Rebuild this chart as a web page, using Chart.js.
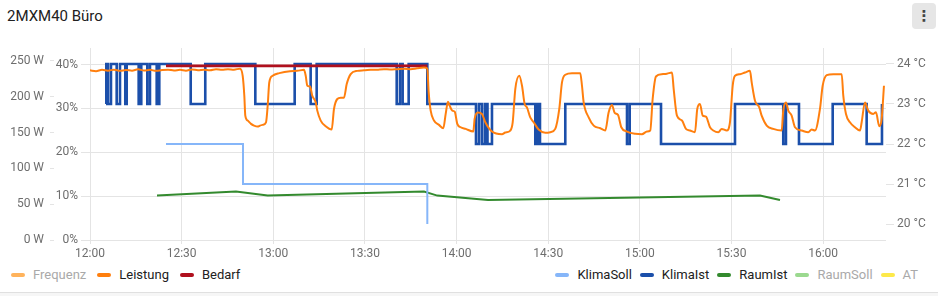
<!DOCTYPE html>
<html><head><meta charset="utf-8">
<script src="https://cdn.jsdelivr.net/npm/chart.js@4.4.1/dist/chart.umd.min.js"></script>
<style>
html,body{margin:0;padding:0;background:#fff;width:938px;height:296px;overflow:hidden;font-family:Roboto,"Noto Sans",sans-serif;}
#title{position:absolute;left:7px;top:5.6px;font-size:15px;line-height:20px;color:#212121;white-space:nowrap;}
#menu{position:absolute;left:912px;top:3px;width:24px;height:26px;background:#e6e6e6;border-radius:4px;color:#444;font:bold 15px "DejaVu Sans",sans-serif;text-align:center;line-height:26px;}
#chart{position:absolute;left:0;top:0;}
.legend{position:absolute;top:266px;display:flex;align-items:center;font-size:13px;line-height:18px;white-space:nowrap;}
#legL{left:11px;}
#legR{right:20px;}
.item{display:flex;align-items:center;color:#212121;}
#legL .item{margin-right:11px;}
#legR .item{margin-left:8px;}
.sw{width:14px;height:4px;border-radius:2px;margin-right:8px;}
.item.off{color:#a9a9a9;}
#footer{position:absolute;left:0;top:292px;width:938px;height:4px;border-top:1px solid #e0e0e0;background:#f6f6f6;}
</style>
</head><body>
<div id="title">2MXM40 Büro</div>
<div id="menu">⋮</div>
<canvas id="chart" width="938" height="264"></canvas>
<div class="legend" id="legL"></div>
<div class="legend" id="legR"></div>
<div id="footer"></div>
<script>
// ---- data ----
const TIME_TICKS = ["12:00","12:30","13:00","13:30","14:00","14:30","15:00","15:30","16:00"];
const X_MIN = "12:00:00", X_MAX = "16:20:34";
const W_TICKS = [0,50,100,150,200,250];
const PCT_TICKS = [0,10,20,30,40];
const TEMP_TICKS = [20,21,22,23,24];

const LEISTUNG_T = ["12:00:00","12:01:58","12:03:56","12:05:53","12:07:51","12:09:49","12:11:47","12:13:45","12:15:43","12:17:41","12:19:38","12:21:36","12:23:34","12:25:32","12:27:30","12:29:28","12:31:25","12:33:23","12:35:21","12:37:19","12:39:17","12:41:15","12:43:13","12:45:10","12:47:08","12:49:06","12:49:59","12:50:31","12:50:50","12:51:37","12:52:42","12:53:41","12:54:53","12:55:39","12:56:32","12:57:37","12:58:10","12:58:41","12:59:48","13:01:58","13:05:28","13:07:46","13:10:03","13:10:37","13:11:08","13:12:01","13:12:46","13:13:53","13:14:24","13:15:31","13:17:09","13:19:07","13:19:52","13:20:57","13:22:04","13:23:08","13:24:02","13:25:20","13:27:30","13:29:41","13:31:53","13:33:56","13:36:14","13:38:12","13:40:35","13:42:47","13:44:58","13:47:02","13:49:20","13:50:25","13:50:52","13:51:31","13:52:36","13:54:14","13:55:39","13:56:26","13:57:11","13:57:44","13:58:35","13:59:23","14:00:14","14:01:20","14:02:59","14:05:28","14:05:55","14:07:00","14:08:19","14:09:24","14:11:35","14:14:52","14:15:56","14:17:35","14:18:22","14:19:13","14:20:31","14:21:25","14:22:17","14:23:02","14:24:07","14:25:14","14:26:52","14:29:02","14:30:40","14:32:18","14:33:37","14:34:30","14:35:35","14:37:46","14:39:05","14:40:29","14:41:03","14:41:36","14:43:14","14:44:53","14:47:02","14:48:40","14:49:47","14:50:52","14:51:45","14:52:50","14:53:55","14:55:47","14:58:29","15:00:41","15:02:19","15:03:24","15:04:11","15:05:16","15:07:14","15:08:52","15:10:31","15:11:04","15:12:08","15:13:47","15:15:05","15:16:24","15:18:02","15:18:47","15:19:40","15:20:34","15:21:38","15:22:57","15:24:02","15:25:40","15:26:47","15:28:25","15:29:29","15:30:23","15:31:08","15:32:46","15:34:24","15:36:02","15:36:36","15:37:41","15:39:05","15:39:52","15:41:31","15:43:40","15:46:25","15:46:56","15:47:49","15:48:35","15:49:41","15:50:46","15:52:58","15:55:07","15:56:14","15:57:19","15:58:57","15:59:50","16:01:09","16:03:19","16:06:04","16:06:35","16:07:28","16:08:46","16:10:25","16:12:03","16:12:36","16:13:41","16:14:46","16:16:24","16:17:17","16:18:22","16:19:09","16:19:54"];
const LEISTUNG_W = [236.8,235.7,237.5,236.4,237.8,236.1,237.2,236.4,238.2,236.7,237.5,236.1,237.2,237.8,236.7,237.5,236.4,238.1,236.9,237.8,236.9,238.3,237.5,238.3,237.8,239.2,229.2,201.4,173.6,166.7,162.1,159.7,158.3,159.7,160.7,164.3,187.5,219.9,229.2,232.9,235.7,236.1,237.5,229.2,215.3,214.3,201.4,192.1,180.6,166.7,158.8,154.2,182.9,196.8,198.6,198.6,217.6,231.5,236.1,236.8,237.5,237.8,238.5,238.1,238.5,238.9,238.5,239.6,240.7,239.3,206.0,180.6,166.7,160.7,156.0,176.0,193.1,187.5,180.6,179.2,162.1,157.4,155.1,151.4,169.4,177.8,176.0,164.3,151.4,147.6,150.0,152.8,164.3,210.7,229.2,215.3,189.9,185.1,171.2,164.3,154.2,149.6,150.4,155.1,182.9,219.9,230.6,232.9,232.6,232.9,215.3,192.1,171.2,159.7,156.0,152.8,178.2,188.5,177.4,174.6,157.4,151.4,148.2,147.6,151.4,152.8,196.8,228.2,231.5,232.2,233.8,210.7,173.6,166.7,155.1,152.8,150.4,182.9,189.9,173.6,172.2,157.4,152.8,150.4,155.1,152.8,164.3,215.3,229.2,231.5,233.8,236.1,219.9,194.4,185.1,173.6,159.7,155.1,152.8,180.6,192.1,180.6,173.6,157.4,152.8,150.4,154.2,152.8,182.9,215.3,230.1,231.5,231.5,201.4,176.0,164.3,157.4,152.8,164.3,192.1,180.6,176.0,178.2,158.8,169.0,215.3];

const BEDARF_T = ["12:24:53","13:50:25"];
const BEDARF_PCT = [39.7,39.7];

const KLIMASOLL_T = ["12:24:53","12:50:05","13:50:25"];
const KLIMASOLL_C = [22,21,20];

const KLIMAIST_T = ["12:05:14","12:05:20","12:05:53","12:06:52","12:08:44","12:09:49","12:11:33","12:12:01","12:15:56","12:16:47","12:18:45","12:19:38","12:21:50","12:22:41","12:32:58","12:37:44","12:54:07","13:07:00","13:12:14","13:14:12","13:40:24","13:41:28","13:42:21","13:44:19","13:50:25","14:06:21","14:07:20","14:08:19","14:09:18","14:10:07","14:11:35","14:25:46","14:26:29","14:27:18","14:35:35","14:55:47","14:56:40","15:06:55","15:31:08","15:46:56","15:47:49","15:52:05","16:03:07","16:14:14","16:19:15"];
const KLIMAIST_C = [23,24,23,24,23,24,23,24,23,24,23,24,23,24,23,24,23,24,23,24,23,24,23,24,23,22,23,22,23,22,23,22,23,22,23,22,23,22,23,22,23,22,23,22,23];

const RAUMIST_T = ["12:21:56","12:47:47","12:58:10","13:49:20","13:53:41","14:10:17","15:39:19","15:45:52"];
const RAUMIST_C = [20.71,20.81,20.71,20.81,20.71,20.6,20.71,20.6];

// ---- helpers ----
const toMin = t => { const p = t.split(':').map(Number); return p[0]*60 + p[1] + (p[2]||0)/60; };
const fmt = v => { const h = Math.floor(v/60), m = Math.round(v - h*60); return String(h).padStart(2,'0') + ':' + String(m).padStart(2,'0'); };
const pts = (ts, vs) => ts.map((t,i) => ({x: toMin(t), y: vs[i]}));

const GRID = '#e4e4e4';
const TICK = '#6e6e6e';
const FONT = {family: 'Roboto', size: 12};

const datasets = [
  {label:'Frequenz', side:'L', data:[], yAxisID:'yP', borderColor:'#ffb35c', hidden:true},
  {label:'Leistung', side:'L', data:pts(LEISTUNG_T, LEISTUNG_W), yAxisID:'yW', borderColor:'#ff7f0e', borderWidth:2, cubicInterpolationMode:'monotone'},
  {label:'Bedarf', side:'L', data:pts(BEDARF_T, BEDARF_PCT), yAxisID:'yP', borderColor:'#b0101e', borderWidth:2.7, stepped:true},
  {label:'KlimaSoll', side:'R', data:pts(KLIMASOLL_T, KLIMASOLL_C), yAxisID:'yT', borderColor:'#86b6f9', borderWidth:2, stepped:true},
  {label:'KlimaIst', side:'R', data:pts(KLIMAIST_T, KLIMAIST_C), yAxisID:'yT', borderColor:'#1b4faa', borderWidth:2.6, stepped:true},
  {label:'RaumIst', side:'R', data:pts(RAUMIST_T, RAUMIST_C), yAxisID:'yT', borderColor:'#338a2e', borderWidth:2},
  {label:'RaumSoll', side:'R', data:[], yAxisID:'yT', borderColor:'#9bd98f', hidden:true},
  {label:'AT', side:'R', data:[], yAxisID:'yT', borderColor:'#fde94a', hidden:true}
];
datasets.forEach(d => { d.pointRadius = 0; d.pointHoverRadius = 0; d.fill = false; d.backgroundColor = d.borderColor; });

const fixTicks = arr => s => { s.ticks = arr.map(v => ({value: v})); };

new Chart(document.getElementById('chart'), {
  type: 'line',
  data: {datasets},
  options: {
    responsive: false, animation: false, parsing: false,
    layout: {padding: {top: 48, left: 0, right: 0, bottom: 0}},
    plugins: {legend: {display: false}, tooltip: {enabled: false}},
    scales: {
      x: {type: 'linear', min: toMin(X_MIN), max: toMin(X_MAX),
          afterBuildTicks: s => { s.ticks = TIME_TICKS.map(t => ({value: toMin(t)})); },
          afterFit: s => { s.height = 24; },
          ticks: {callback: v => fmt(v), color: TICK, font: FONT, padding: 3, maxRotation: 0, autoSkip: false},
          grid: {color: GRID, tickLength: 4}, border: {display: false}},
      yP: {position: 'left', weight: 0, min: 0, max: 43.8,
           afterBuildTicks: fixTicks(PCT_TICKS), afterFit: s => { s.width = 36; },
           ticks: {callback: v => v + '%', color: TICK, font: FONT, padding: 3},
           grid: {color: GRID, tickLength: 9}, border: {display: false}},
      yW: {position: 'left', weight: 1, min: 0, max: 268,
           afterBuildTicks: fixTicks(W_TICKS), afterFit: s => { s.width = 54; },
           ticks: {callback: v => v + ' W', color: TICK, font: FONT, padding: 6},
           grid: {drawOnChartArea: false, color: GRID, tickLength: 4}, border: {display: false}},
      yT: {position: 'right', min: 19.6, max: 24.4,
           afterBuildTicks: fixTicks(TEMP_TICKS), afterFit: s => { s.width = 52; },
           ticks: {callback: v => v + ' °C', color: TICK, font: FONT, padding: 3},
           grid: {drawOnChartArea: false, color: GRID, tickLength: 8}, border: {display: false}}
    }
  }
});

// ---- legend (HTML) ----
datasets.forEach(d => {
  const it = document.createElement('div');
  it.className = 'item' + (d.hidden ? ' off' : '');
  const sw = document.createElement('span');
  sw.className = 'sw'; sw.style.background = d.borderColor;
  const tx = document.createElement('span'); tx.textContent = d.label;
  it.appendChild(sw); it.appendChild(tx);
  document.getElementById(d.side === 'L' ? 'legL' : 'legR').appendChild(it);
});
</script>
</body></html>
